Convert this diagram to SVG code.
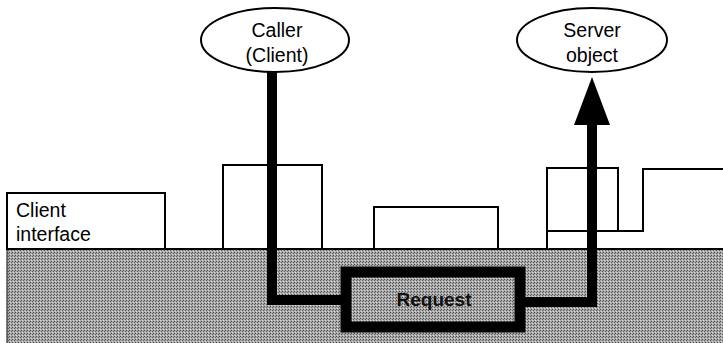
<svg xmlns="http://www.w3.org/2000/svg" width="723" height="343" viewBox="0 0 723 343">
<style>
.box{fill:#fff;stroke:#000;stroke-width:2}
.ell{fill:#fff;stroke:#000;stroke-width:2}
.lbl{font-family:"Liberation Sans",Arial,sans-serif;font-size:19.5px;fill:#000}
.thick{fill:none;stroke:#000;stroke-width:10}
</style>
<defs>
<pattern id="dots" width="3" height="3" patternUnits="userSpaceOnUse">
<rect width="3" height="3" fill="#a8a8a8"/>
<rect x="0" y="0" width="1" height="1" fill="#4e4e4e"/>
<rect x="2" y="1" width="1" height="1" fill="#626262"/>
<rect x="1" y="2" width="1" height="1" fill="#dcdcdc"/>
</pattern>
</defs>
<g id="ground">
<rect x="7" y="249" width="717" height="95" fill="url(#dots)"/>
<line x1="7" y1="249" x2="723" y2="249" stroke="#000" stroke-width="2"/>
<line x1="7" y1="249" x2="7" y2="343" stroke="#000" stroke-width="1"/>
</g>
<g id="client-interface">
<rect class="box" x="7" y="193" width="158" height="56"/>
<text class="lbl" x="16" y="217">Client</text>
<text class="lbl" x="16" y="241">interface</text>
</g>
<g id="block2"><rect class="box" x="223" y="165" width="99" height="84"/></g>
<g id="block3"><rect class="box" x="374" y="207" width="124" height="42"/></g>
<g id="block4">
<path class="box" d="M547,249 V168 H618 V231 H643 V169 H724"/>
<line x1="547" y1="231" x2="618" y2="231" stroke="#000" stroke-width="2"/>
</g>
<g id="caller">
<ellipse class="ell" cx="275" cy="40" rx="74" ry="32"/>
<text class="lbl" x="277" y="37" text-anchor="middle">Caller</text>
<text class="lbl" x="277" y="62" text-anchor="middle">(Client)</text>
</g>
<g id="server">
<ellipse class="ell" cx="592" cy="40" rx="75" ry="32"/>
<text class="lbl" x="592" y="37" text-anchor="middle">Server</text>
<text class="lbl" x="592" y="62" text-anchor="middle">object</text>
</g>
<g id="request">
<rect x="346" y="272" width="174" height="55" fill="none" stroke="#000" stroke-width="11"/>
<text x="434" y="306" text-anchor="middle" font-family="'Liberation Sans',Arial,sans-serif" font-size="19" font-weight="bold" fill="#111">Request</text>
</g>
<g id="connectors">
<path class="thick" d="M272,72 V300 H341"/>
<path class="thick" d="M525,302 H592 V122"/>
<polygon points="592,77 574,125 610,125" fill="#000"/>
</g>
</svg>
